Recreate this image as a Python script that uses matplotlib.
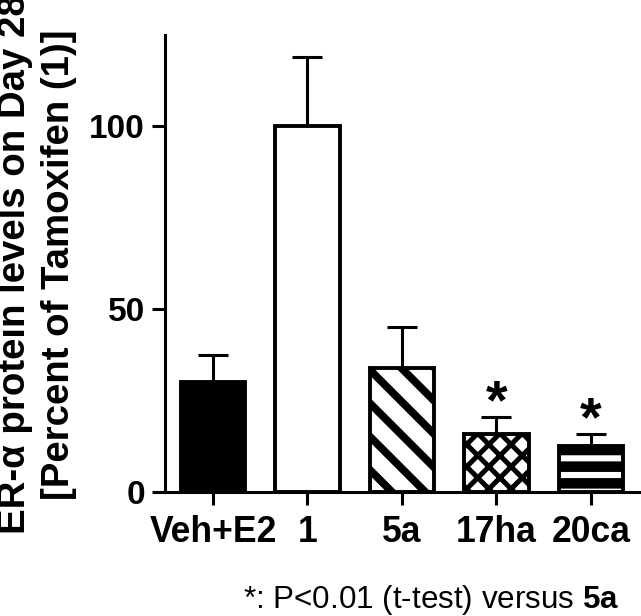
import matplotlib
matplotlib.use("Agg")
import matplotlib.pyplot as plt

plt.rcParams['font.family'] = ['Liberation Sans', 'DejaVu Sans']
plt.rcParams['mathtext.fontset'] = 'custom'
plt.rcParams['mathtext.rm'] = 'Liberation Sans'
plt.rcParams['mathtext.bf'] = 'Liberation Sans:bold'

# data
groups = ["Veh+E2", "1", "5a", "17ha", "20ca"]
means = [30.0, 100.0, 34.0, 15.8, 12.5]
errors = [7.5, 19.0, 11.0, 4.7, 3.4]
significant = [False, False, False, True, True]

fig = plt.figure(figsize=(3.205, 3.08), dpi=200)
ax = fig.add_axes([0.2574, 0.2013, 0.7426, 0.7419])

x = list(range(len(groups)))
w = 0.68
edge_lw = 1.4

ax.errorbar(x, means, yerr=[[0] * len(means), errors], fmt="none",
            ecolor="black", elinewidth=1.1, capsize=5.4, capthick=1.1, zorder=1)

def make_bar(i, face, hatch=None, hatch_lw=1.0, hatch_col="black", lw=edge_lw):
    plt.rcParams['hatch.linewidth'] = hatch_lw
    b = ax.bar(x[i], means[i], width=w, color=face, edgecolor=hatch_col,
               linewidth=lw, hatch=hatch, zorder=2)[0]
    if hasattr(b, "set_hatch_linewidth"):
        b.set_hatch_linewidth(hatch_lw)
    return b

make_bar(0, "black")
make_bar(1, "white")
make_bar(2, "white", hatch="\\\\", hatch_lw=2.8)
make_bar(3, "white", hatch="xxx", hatch_lw=1.8)
# 20ca: black bar with white horizontal stripes, black outline on top
make_bar(4, "black", hatch="--", hatch_lw=2.2, hatch_col="white", lw=0)
ax.bar(x[4], means[4], width=w, facecolor="none", edgecolor="black",
       linewidth=edge_lw, zorder=3)

for i, s in enumerate(significant):
    if s:
        ax.text(x[i], means[i] + errors[i] + 3.5, "*", ha="center", va="center",
                fontsize=20, fontweight="bold")

ax.set_xlim(-0.508, 4.53)
ax.set_ylim(0, 125)
ax.set_yticks([0, 50, 100])
ax.set_xticks(x)
ax.set_xticklabels(groups)
for sp in ["top", "right"]:
    ax.spines[sp].set_visible(False)
for sp in ["left", "bottom"]:
    ax.spines[sp].set_linewidth(1.1)
ax.tick_params(axis="both", direction="out", length=4.7, width=1.1)
ax.tick_params(axis="x", pad=3.5, labelsize=12.8)
ax.tick_params(axis="y", pad=2.5, labelsize=12)
for lab in ax.get_xticklabels() + ax.get_yticklabels():
    lab.set_fontweight("bold")

fig.text(0.058, 0.571,
         "ER-\u03b1 protein levels on Day 28\n[Percent of Tamoxifen (1)]",
         rotation=90, ha="center", va="center", fontsize=13.8,
         fontweight="bold", linespacing=1.3, multialignment="center")

fig.text(0.379, 0.013, r"*: P<0.01 (t-test) versus $\mathbf{5a}$",
         ha="left", va="baseline", fontsize=11.3)

fig.savefig("out.png", dpi=200)
